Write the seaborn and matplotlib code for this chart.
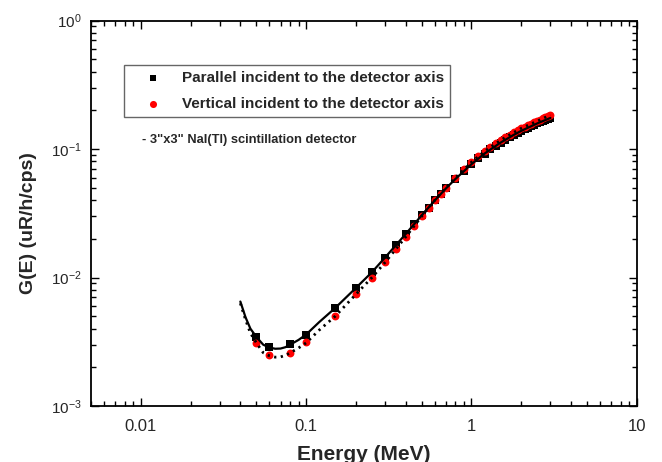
import matplotlib
matplotlib.use("Agg")
import matplotlib.pyplot as plt
import seaborn as sns
import pandas as pd
from matplotlib.ticker import LogLocator, NullFormatter, FixedLocator, FixedFormatter

# ---- data ----
energy = [0.05, 0.06, 0.08, 0.1, 0.15, 0.2, 0.25, 0.3, 0.35, 0.4, 0.45, 0.5, 0.55, 0.6, 0.65, 0.7,
          0.8, 0.9, 1.0, 1.1, 1.2, 1.3, 1.4, 1.5, 1.6, 1.7, 1.8, 1.9, 2.0, 2.1, 2.2, 2.3, 2.4,
          2.5, 2.6, 2.7, 2.8, 2.9, 3.0]
parallel = [0.00345, 0.0029, 0.00302, 0.0036, 0.0058, 0.0083, 0.0110, 0.0143, 0.0178, 0.0218,
            0.0259, 0.0305, 0.0350, 0.0398, 0.0445, 0.0493, 0.0585, 0.0675, 0.0762, 0.0845,
            0.0922, 0.0993, 0.1060, 0.1122, 0.1180, 0.1235, 0.1288, 0.1338, 0.1385, 0.1428,
            0.1470, 0.1510, 0.1548, 0.1583, 0.1617, 0.1650, 0.1682, 0.1713, 0.1745]
vertical = [0.00308, 0.0025, 0.0026, 0.00316, 0.0050, 0.0074, 0.0100, 0.0131, 0.0168, 0.0207,
            0.0250, 0.0300, 0.0350, 0.0400, 0.0450, 0.0500, 0.0598, 0.0695, 0.0790, 0.0878,
            0.0960, 0.1035, 0.1105, 0.1170, 0.1230, 0.1290, 0.1345, 0.1398, 0.1448, 0.1494,
            0.1535, 0.1573, 0.1610, 0.1650, 0.1690, 0.1730, 0.1768, 0.1805, 0.1840]

fit_energy = [0.04, 0.043, 0.046, 0.05, 0.055, 0.06, 0.065, 0.07, 0.075, 0.08, 0.09, 0.1, 0.12,
              0.15, 0.2, 0.25, 0.3, 0.4, 0.5, 0.6, 0.7, 0.8, 1.0, 1.2, 1.5, 1.8, 2.0, 2.5, 3.0]
fit_parallel = [0.0065, 0.0049, 0.0040, 0.00345, 0.00300, 0.00285, 0.00279, 0.00280, 0.00287,
                0.00300, 0.00327, 0.0036, 0.0045, 0.0058, 0.0083, 0.0110, 0.0143, 0.0218, 0.0305,
                0.0398, 0.0493, 0.0585, 0.0762, 0.0922, 0.1122, 0.1288, 0.1385, 0.1583, 0.1745]
fit_vertical = [0.0063, 0.0047, 0.0037, 0.0031, 0.0026, 0.00246, 0.00240, 0.00241, 0.00248,
                0.00259, 0.00283, 0.0031, 0.0039, 0.0050, 0.0074, 0.0100, 0.0131, 0.0207, 0.0300,
                0.0400, 0.0500, 0.0598, 0.0790, 0.0960, 0.1170, 0.1345, 0.1448, 0.1650, 0.1840]

label_parallel = "Parallel incident to the detector axis"
label_vertical = "Vertical incident to the detector axis"
note = '- 3"x3" NaI(Tl) scintillation detector'
x_ticks = [0.01, 0.1, 1, 10]
x_ticklabels = ["0.01", "0.1", "1", "10"]
y_ticks = [1e-3, 1e-2, 1e-1, 1]
y_ticklabels = [r"$10^{-3}$", r"$10^{-2}$", r"$10^{-1}$", r"$10^{0}$"]

# ---- style ----
sns.set_style("ticks")
plt.rcParams["font.family"] = ["Liberation Sans", "DejaVu Sans"]
plt.rcParams["mathtext.fontset"] = "custom"
plt.rcParams["mathtext.rm"] = "Liberation Sans"
plt.rcParams["mathtext.it"] = "Liberation Sans"

fig = plt.figure(figsize=(6.62, 4.62), dpi=100)
ax = fig.add_axes([0.1375, 0.1212, 0.8245, 0.8344])

df_p = pd.DataFrame({"E": energy, "G": parallel})
df_v = pd.DataFrame({"E": energy, "G": vertical})
df_fp = pd.DataFrame({"E": fit_energy, "G": fit_parallel})
df_fv = pd.DataFrame({"E": fit_energy, "G": fit_vertical})

sns.scatterplot(data=df_p, x="E", y="G", ax=ax, marker="s", color="black", s=28,
                edgecolor="black", linewidth=0, label=label_parallel, zorder=3)
sns.scatterplot(data=df_v, x="E", y="G", ax=ax, marker="o", color="red", s=32,
                edgecolor="red", linewidth=0, label=label_vertical, zorder=4)
sns.lineplot(data=df_fp, x="E", y="G", ax=ax, color="black", linewidth=1.6,
             estimator=None, sort=False, zorder=5, legend=False)
sns.lineplot(data=df_fv, x="E", y="G", ax=ax, color="black", linewidth=2.0,
             linestyle=(0, (0.8, 1.6)), estimator=None, sort=False, zorder=5, legend=False)

ax.set_xscale("log")
ax.set_yscale("log")
ax.set_xlim(0.005, 10)
ax.set_ylim(1e-3, 1)

ax.xaxis.set_major_locator(FixedLocator(x_ticks))
ax.xaxis.set_major_formatter(FixedFormatter(x_ticklabels))
ax.yaxis.set_major_locator(FixedLocator(y_ticks))
ax.yaxis.set_major_formatter(FixedFormatter(y_ticklabels))
ax.xaxis.set_minor_locator(LogLocator(base=10, subs=range(2, 10), numticks=20))
ax.yaxis.set_minor_locator(LogLocator(base=10, subs=range(2, 10), numticks=20))
ax.xaxis.set_minor_formatter(NullFormatter())
ax.yaxis.set_minor_formatter(NullFormatter())

ax.tick_params(which="both", direction="in", top=True, right=True, width=1.0, color="black")
ax.tick_params(which="major", length=6, labelsize=11, pad=7)
ax.tick_params(axis="x", which="major", labelsize=12, pad=9)
ax.tick_params(which="minor", length=3.5)
for sp in ax.spines.values():
    sp.set_visible(True)
    sp.set_linewidth(1.3)
    sp.set_color("black")

ax.set_xlabel("Energy (MeV)", fontsize=15, fontweight="bold", labelpad=8)
ax.set_ylabel("G(E) (uR/h/cps)", fontsize=14, fontweight="bold")
ax.yaxis.set_label_coords(-0.099, 0.475)

leg = ax.legend(loc="upper left", bbox_to_anchor=(0.0604, 0.8846), frameon=True,
                fancybox=False, edgecolor="#666666", framealpha=1, borderaxespad=0,
                prop={"weight": "bold", "size": 11}, handlelength=3.0, handletextpad=0.35,
                borderpad=0.42, labelspacing=0.75, markerscale=0.9)
leg.get_frame().set_linewidth(1.0)

ax.text(0.0934, 0.690, note, transform=ax.transAxes, fontsize=9.3, fontweight="bold",
        ha="left", va="center")

fig.savefig("out.png", dpi=100)
